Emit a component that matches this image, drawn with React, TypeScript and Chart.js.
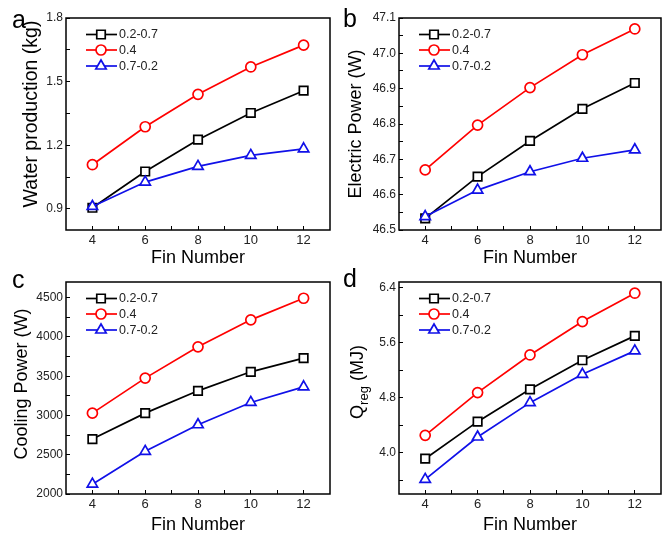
import React, { useEffect, useRef } from 'react';
import { Chart, registerables } from 'chart.js';
import { drawPoint } from 'chart.js/helpers';

Chart.register(...registerables);
Chart.defaults.font.family = '"Liberation Sans", Arial, sans-serif';

// ---------- data ----------
const finNumbers = [4, 6, 8, 10, 12];
const seriesNames = ['0.2-0.7', '0.4', '0.7-0.2'];
const xMajorTicks = [4, 6, 8, 10, 12];
const xMinorTicks = [5, 7, 9, 11];

const waterA = [0.905, 1.076, 1.226, 1.352, 1.457];
const waterB = [1.108, 1.287, 1.44, 1.569, 1.672];
const waterC = [0.911, 1.026, 1.1, 1.152, 1.183];
const waterMajor = [0.9, 1.2, 1.5, 1.8];
const waterMinor = [1.05, 1.35, 1.65];

const elecA = [46.533, 46.651, 46.752, 46.843, 46.916];
const elecB = [46.67, 46.797, 46.903, 46.996, 47.069];
const elecC = [46.538, 46.613, 46.665, 46.703, 46.727];
const elecMajor = [46.5, 46.6, 46.7, 46.8, 46.9, 47.0, 47.1];
const elecMinor = [46.55, 46.65, 46.75, 46.85, 46.95, 47.05];

const coolA = [2700, 3030, 3314, 3556, 3730];
const coolB = [3030, 3476, 3874, 4218, 4493];
const coolC = [2125, 2543, 2882, 3166, 3365];
const coolMajor = [2000, 2500, 3000, 3500, 4000, 4500];
const coolMinor = [2250, 2750, 3250, 3750, 4250];

const qregA = [3.913, 4.451, 4.921, 5.343, 5.697];
const qregB = [4.252, 4.873, 5.42, 5.905, 6.317];
const qregC = [3.612, 4.228, 4.727, 5.139, 5.479];
const qregMajor = [4.0, 4.8, 5.6, 6.4];
const qregMinor = [3.6, 4.4, 5.2, 6.0];

// ---------- styles ----------
const COLORS = ['#000000', '#ff0000', '#1010e8'];
const STYLES = ['rect', 'circle', 'triangle'];
const RADII = [6, 5, 6];
const LW = 1.7;
const FONT = '"Liberation Sans", Arial, sans-serif';

type Seg = { t: string; sub?: boolean };
type Panel = {
  letter: string;
  left: number; top: number; w: number; h: number;
  area: { l: number; t: number; r: number; b: number };
  yMin: number; yMax: number; yMajor: number[]; yMinor: number[]; dec: number;
  series: number[][];
  yTitle: Seg[]; yTitleSize: number; yTitleX: number; yTitleY: number;
  letterY: number;
};

const panels: Panel[] = [
  {
    letter: 'a', left: 0, top: 0, w: 331, h: 267,
    area: { l: 66, t: 18, r: 330, b: 230 },
    yMin: 0.8, yMax: 1.8, yMajor: waterMajor, yMinor: waterMinor, dec: 1,
    series: [waterA, waterB, waterC],
    yTitle: [{ t: 'Water production (kg)' }], yTitleSize: 19.5, yTitleX: 32, yTitleY: 114,
    letterY: 28,
  },
  {
    letter: 'b', left: 331, top: 0, w: 331, h: 267,
    area: { l: 68, t: 18, r: 330, b: 230 },
    yMin: 46.5, yMax: 47.1, yMajor: elecMajor, yMinor: elecMinor, dec: 1,
    series: [elecA, elecB, elecC],
    yTitle: [{ t: 'Electric Power (W)' }], yTitleSize: 18, yTitleX: 25, yTitleY: 124,
    letterY: 27,
  },
  {
    letter: 'c', left: 0, top: 267, w: 331, h: 267,
    area: { l: 66, t: 15, r: 330, b: 227 },
    yMin: 2000, yMax: 4700, yMajor: coolMajor, yMinor: coolMinor, dec: 0,
    series: [coolA, coolB, coolC],
    yTitle: [{ t: 'Cooling Power (W)' }], yTitleSize: 18, yTitleX: 22, yTitleY: 117,
    letterY: 21,
  },
  {
    letter: 'd', left: 331, top: 267, w: 331, h: 267,
    area: { l: 68, t: 15, r: 330, b: 227 },
    yMin: 3.4, yMax: 6.48, yMajor: qregMajor, yMinor: qregMinor, dec: 1,
    series: [qregA, qregB, qregC],
    yTitle: [{ t: 'Q' }, { t: 'reg', sub: true }, { t: ' (MJ)' }], yTitleSize: 18, yTitleX: 27, yTitleY: 115,
    letterY: 20,
  },
];

function zeroPadding(s: any) {
  s.paddingLeft = 0;
  s.paddingRight = 0;
  s.paddingTop = 0;
  s.paddingBottom = 0;
}

function makeConfig(p: Panel): any {
  const framePlugin = {
    id: 'frameAndText',
    afterDatasetsDraw(chart: any) {
      const { ctx, chartArea: a } = chart;
      ctx.save();
      // frame
      ctx.strokeStyle = '#000';
      ctx.lineWidth = 1.5;
      ctx.strokeRect(a.left, a.top, a.right - a.left, a.bottom - a.top);

      // legend
      const rows = [16.5, 32, 48];
      seriesNames.forEach((name, i) => {
        const y = a.top + rows[i];
        const x0 = a.left + 20;
        ctx.strokeStyle = COLORS[i];
        ctx.lineWidth = LW;
        ctx.beginPath();
        ctx.moveTo(x0, y);
        ctx.lineTo(x0 + 31, y);
        ctx.stroke();
        ctx.fillStyle = '#fff';
        ctx.strokeStyle = COLORS[i];
        ctx.lineWidth = LW;
        drawPoint(ctx, { pointStyle: STYLES[i], radius: RADII[i], rotation: 0, borderWidth: LW } as any, x0 + 15, y);
        ctx.fillStyle = '#222';
        ctx.font = `12.5px ${FONT}`;
        ctx.textAlign = 'left';
        ctx.textBaseline = 'middle';
        ctx.fillText(name, x0 + 33, y + 0.5);
      });

      // x title
      ctx.fillStyle = '#000';
      ctx.font = `18px ${FONT}`;
      ctx.textAlign = 'center';
      ctx.textBaseline = 'middle';
      ctx.fillText('Fin Number', (a.left + a.right) / 2, 258);

      // y title (rotated, with optional subscript)
      const big = `${p.yTitleSize}px ${FONT}`;
      const small = `${Math.round(p.yTitleSize * 0.72)}px ${FONT}`;
      let total = 0;
      p.yTitle.forEach((s) => {
        ctx.font = s.sub ? small : big;
        total += ctx.measureText(s.t).width;
      });
      ctx.save();
      ctx.translate(p.yTitleX, p.yTitleY);
      ctx.rotate(-Math.PI / 2);
      ctx.textAlign = 'left';
      ctx.textBaseline = 'middle';
      let cx = -total / 2;
      p.yTitle.forEach((s) => {
        ctx.font = s.sub ? small : big;
        ctx.fillText(s.t, cx, s.sub ? 6 : 0);
        cx += ctx.measureText(s.t).width;
      });
      ctx.restore();

      // panel letter
      ctx.fillStyle = '#000';
      ctx.font = `25px ${FONT}`;
      ctx.textAlign = 'left';
      ctx.textBaseline = 'alphabetic';
      ctx.fillText(p.letter, 12, p.letterY);
      ctx.restore();
    },
  };

  const datasets = seriesNames.map((name, i) => ({
    label: name,
    data: finNumbers.map((x, k) => ({ x, y: p.series[i][k] })),
    borderColor: COLORS[i],
    borderWidth: LW,
    pointStyle: STYLES[i],
    pointRadius: RADII[i],
    pointBorderWidth: LW,
    pointBackgroundColor: '#ffffff',
    pointBorderColor: COLORS[i],
    tension: 0,
    fill: false,
    order: 2 - i,
  }));

  return {
    type: 'line',
    data: { datasets },
    options: {
      animation: false,
      responsive: false,
      devicePixelRatio: 1,
      layout: { autoPadding: false, padding: { top: p.area.t, right: p.w - p.area.r, left: 0, bottom: 0 } },
      plugins: { legend: { display: false }, tooltip: { enabled: false }, title: { display: false } },
      scales: {
        x: {
          type: 'linear',
          min: 3,
          max: 13,
          afterBuildTicks: (s: any) => {
            s.ticks = [...xMajorTicks, ...xMinorTicks].sort((u, v) => u - v).map((v) => ({ value: v }));
          },
          afterFit: (s: any) => {
            s.height = p.h - p.area.b;
            zeroPadding(s);
          },
          grid: { drawOnChartArea: false, drawTicks: true, tickLength: -4, tickColor: '#000', tickWidth: 1, color: '#000' },
          border: { display: false },
          ticks: {
            autoSkip: false,
            maxRotation: 0,
            padding: 7,
            color: '#222',
            font: { size: 13, family: FONT },
            callback: (v: number) => (xMajorTicks.includes(v) ? String(v) : ''),
          },
        },
        y: {
          type: 'linear',
          min: p.yMin,
          max: p.yMax,
          afterBuildTicks: (s: any) => {
            s.ticks = [...p.yMajor, ...p.yMinor].sort((u, v) => u - v).map((v) => ({ value: v }));
          },
          afterFit: (s: any) => {
            s.width = p.area.l;
            zeroPadding(s);
          },
          grid: { drawOnChartArea: false, drawTicks: true, tickLength: -4, tickColor: '#000', tickWidth: 1, color: '#000' },
          border: { display: false },
          ticks: {
            autoSkip: false,
            padding: 7,
            color: '#222',
            font: { size: 12, family: FONT, lineHeight: 1 },
            callback: (v: number) => (p.yMajor.includes(v) ? v.toFixed(p.dec) : ''),
          },
        },
      },
    },
    plugins: [framePlugin],
  };
}

function PanelChart({ p }: { p: Panel }) {
  const ref = useRef<HTMLCanvasElement>(null);
  useEffect(() => {
    const chart = new Chart(ref.current as HTMLCanvasElement, makeConfig(p));
    return () => chart.destroy();
  }, []);
  return (
    <canvas
      ref={ref}
      width={p.w}
      height={p.h}
      style={{ position: 'absolute', left: p.left, top: p.top, width: p.w, height: p.h }}
    />
  );
}

export default function App() {
  return (
    <div style={{ position: 'fixed', left: 0, top: 0, width: 662, height: 534, background: '#fff' }}>
      {panels.map((p) => (
        <PanelChart key={p.letter} p={p} />
      ))}
    </div>
  );
}
